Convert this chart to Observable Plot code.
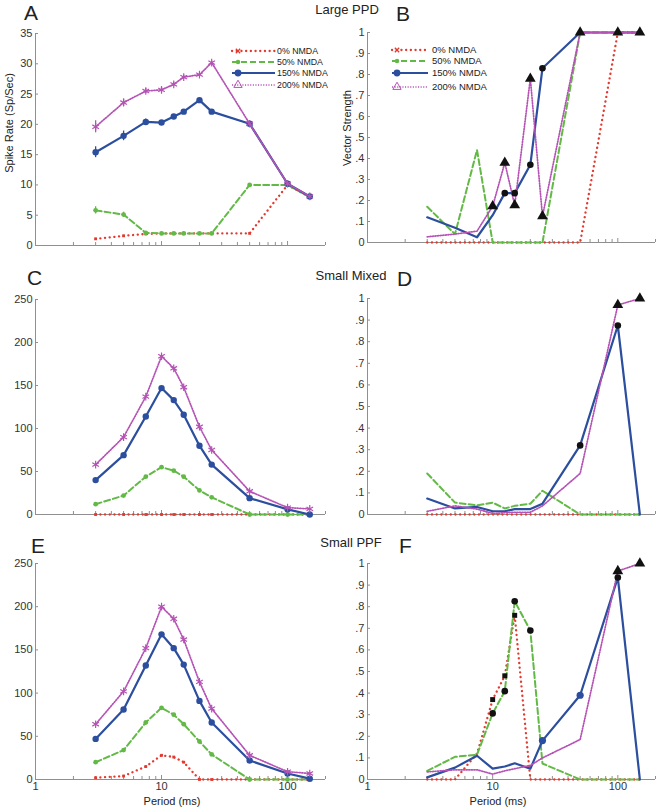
<!DOCTYPE html>
<html><head><meta charset="utf-8">
<script src="https://cdn.jsdelivr.net/npm/d3@7"></script>
<script src="https://cdn.jsdelivr.net/npm/@observablehq/plot@0.6"></script>
<style>
body{margin:0;background:#fff;font-family:"Liberation Sans",Arial,sans-serif;}
#fig{position:relative;width:660px;height:810px;overflow:hidden;background:#fff;}
.lbl{position:absolute;color:#222;white-space:nowrap;line-height:1;}
</style></head><body><div id="fig"></div>
<script>
// ---------- data ----------
const periods = [3, 5, 7.5, 10, 12.5, 15, 20, 25, 50, 100, 150];
const seriesNames = ["0% NMDA", "50% NMDA", "150% NMDA", "200% NMDA"];

// A: Large PPD spike rate
const a0   = [1.1, 1.6, 1.9, 2, 2, 2, 2, 2, 2, 10, 8];
const a50  = [5.8, 5.1, 2.1, 2, 2, 2, 2, 2, 10, 10, 8];
const a150 = [15.4, 18.1, 20.4, 20.3, 21.3, 22.1, 24, 22.1, 20.1, 10.2, 8.1];
const a200 = [19.6, 23.6, 25.5, 25.7, 26.6, 27.8, 28.2, 30.2, 20.1, 10.2, 8.1];
const errA50  = [0.6, 0.4, 0.2, 0.1, 0.1, 0.1, 0.1, 0.1, 0.1, 0.1, 0.1];
const errA150 = [0.9, 0.8, 0.5, 0.3, 0.3, 0.2, 0.2, 0.2, 0.2, 0.2, 0.2];
const errA200 = [1.0, 0.6, 0.4, 0.4, 0.3, 0.3, 0.2, 0.2, 0.2, 0.2, 0.2];

// B: Large PPD vector strength
const b0   = [0, 0, 0, 0, 0, 0, 0, 0, 0, 1, 1];
const b50  = [0.17, 0.04, 0.44, 0, 0, 0, 0, 0, 1, 1, 1];
const b150 = [0.12, 0.07, 0.025, 0.13, 0.235, 0.235, 0.37, 0.83, 1, 1, 1];
const b200 = [0.027, 0.04, 0.054, 0.173, 0.38, 0.178, 0.78, 0.125, 1, 1, 1];
const sigB150 = [12.5, 15, 20, 25];
const sigB200 = [10, 12.5, 15, 20, 25, 50, 100, 150];

// C: Small Mixed spike rate
const c0   = [0, 0, 0, 0, 0, 0, 0, 0, 0, 0, 0];
const c50  = [12, 22, 44, 55, 51, 44, 28, 20, 0, 0, 0];
const c150 = [40, 69, 114, 147, 133, 116, 80, 58, 19, 6, 0];
const c200 = [58, 90, 137, 184, 170, 148, 102, 75, 27, 8, 6.5];

// D: Small Mixed vector strength
const d0   = [0, 0, 0, 0, 0, 0, 0, 0, 0, 0, 0];
const d50  = [0.19, 0.055, 0.042, 0.055, 0.028, 0.04, 0.05, 0.11, 0, 0, 0];
const d150 = [0.074, 0.028, 0.035, 0.015, 0.015, 0.025, 0.025, 0.05, 0.32, 0.875, 0];
const d200 = [0.015, 0.04, 0.025, 0.005, 0.008, 0.01, 0.01, 0.04, 0.19, 0.97, 1.0];
const sigD150 = [50, 100];
const sigD200 = [100, 150];

// E: Small PPF spike rate
const e0   = [2, 4, 15, 28, 26, 20, 0, 0, 0, 0, 0];
const e50  = [20, 34, 66, 83, 75, 64, 44, 29, 0, 0, 0];
const e150 = [47, 81, 132, 168, 152, 133, 91, 66, 22, 7, 1];
const e200 = [64, 102, 152, 200, 186, 162, 113, 82, 28, 9, 7];

// F: Small PPF vector strength
const f0   = [0, 0, 0.12, 0.37, 0.48, 0.76, 0, 0, 0, 0, 0];
const f50  = [0.04, 0.105, 0.115, 0.306, 0.409, 0.825, 0.69, 0.074, 0, 0, 0];
const f150 = [0.01, 0.055, 0.11, 0.05, 0.06, 0.075, 0.05, 0.18, 0.39, 0.935, 0];
const f200 = [0.035, 0.045, 0.045, 0.025, 0.04, 0.05, 0.065, 0.1, 0.185, 0.965, 1.0];
const sigF0 = [10, 12.5, 15];
const sigF50 = [10, 12.5, 15, 20];
const sigF150 = [100];
const sigF150b = [25, 50];
const sigF200 = [100, 150];

const rateTicks = [0, 5, 10, 15, 20, 25, 30, 35];
const rate2Ticks = [0, 50, 100, 150, 200, 250];
const vsTicks = [0, 0.1, 0.2, 0.3, 0.4, 0.5, 0.6, 0.7, 0.8, 0.9, 1];
const xMajor = [1, 10, 100];
const xMinor = [2,3,4,5,6,7,8,9,20,30,40,50,60,70,80,90,200];

// ---------- styles ----------
const FONT = '"Liberation Sans", Arial, sans-serif';
const RED = "#e23a2f", GREEN = "#63b946", BLUE = "#2c4e9e", MAG = "#b552b5", AX = "#8f8f8f";
const lineStyle = [
  {stroke: RED, strokeWidth: 2.3, strokeDasharray: "0.1 4.6", strokeLinecap: "round"},
  {stroke: GREEN, strokeWidth: 2, strokeDasharray: "6 3"},
  {stroke: BLUE, strokeWidth: 2.2},
  {stroke: MAG, strokeWidth: 1.7, strokeDasharray: "1.1 1.5"}
];
const dotStyle = [
  {fill: RED, r: 1.6, symbol: "square"},
  {fill: GREEN, r: 2.4, symbol: "circle"},
  {fill: BLUE, r: 3.2, symbol: "circle"},
  {stroke: MAG, r: 3.6, symbol: "asterisk", strokeWidth: 1.2}
];

const rows = (arr, err) => periods.map((p, i) => ({period: p, value: arr[i], err: err ? err[i] : 0}));
const vsFmt = d => d === 0 ? "0" : d === 1 ? "1" : "." + Math.round(d * 10);

const fig = document.getElementById("fig");

function panel(cfg) {
  const W = 330;
  const innerH = cfg.h - cfg.mt - cfg.mb;
  const innerW = W - cfg.ml - cfg.mr;
  const marks = [
    Plot.ruleY([0], {stroke: AX}),
    Plot.ruleX([1], {stroke: AX}),
    Plot.tickX(xMinor, {x: d => d, stroke: AX, insetTop: innerH - 3}),
    Plot.tickX(xMajor, {x: d => d, stroke: AX, insetTop: innerH - 4}),
    Plot.tickY(cfg.yTicks, {y: d => d, stroke: AX, insetRight: innerW - 3})
  ];
  cfg.series.forEach((s, k) => {
    const r = rows(s, cfg.err ? cfg.err[k] : null);
    if (cfg.err && cfg.err[k]) {
      marks.push(Plot.ruleX(r.filter(d => d.err > 0.15), {x: "period", y1: d => d.value - d.err, y2: d => d.value + d.err, stroke: lineStyle[k].stroke, strokeWidth: 1.3}));
    }
    marks.push(Plot.line(r, {x: "period", y: "value", ...lineStyle[k]}));
    if (cfg.markers) marks.push(Plot.dot(r, {x: "period", y: "value", ...dotStyle[k]}));
  });
  (cfg.sig || []).forEach(sg => {
    const r = rows(cfg.series[sg.k]).filter(d => sg.at.includes(d.period));
    marks.push(Plot.dot(r, {x: "period", y: "value", symbol: sg.symbol, fill: sg.fill || "#111", r: sg.r || 3.3}));
  });
  const svg = Plot.plot({
    width: W, height: cfg.h,
    marginTop: cfg.mt, marginBottom: cfg.mb, marginLeft: cfg.ml, marginRight: cfg.mr,
    style: {fontFamily: FONT, fontSize: "11px", color: "#333", background: "#fff", overflow: "hidden"},
    x: cfg.xLabels
      ? {type: "log", domain: [1, 200], ticks: xMajor, tickFormat: d => String(d), tickSize: 0, tickPadding: 3, label: null}
      : {type: "log", domain: [1, 200], axis: null},
    y: {domain: [0, cfg.yMax], ticks: cfg.yTicks, tickFormat: cfg.fmt, tickSize: 0, tickPadding: 3, label: null},
    marks
  });
  svg.style.position = "absolute";
  svg.style.left = cfg.left + "px";
  svg.style.top = cfg.top + "px";
  fig.appendChild(svg);
  return svg;
}

function legend(svg, x0, x1, tx, ys, mx, fs) {
  const g = d3.select(svg).append("g").attr("font-family", FONT).attr("font-size", fs)
    .attr("fill", "#222").attr("text-anchor", "start");
  seriesNames.forEach((name, k) => {
    const st = lineStyle[k];
    g.append("line").attr("x1", x0).attr("x2", x1).attr("y1", ys[k]).attr("y2", ys[k])
      .attr("stroke", st.stroke).attr("stroke-width", st.strokeWidth)
      .attr("stroke-dasharray", st.strokeDasharray || null).attr("stroke-linecap", st.strokeLinecap || null);
    const sym = [d3.symbolTimes, d3.symbolCircle, d3.symbolCircle, d3.symbolTriangle][k];
    const size = [14, 16, 36, 30][k];
    const p = g.append("path").attr("d", d3.symbol(sym, size)()).attr("transform", `translate(${mx},${ys[k]})`);
    if (k === 0) p.attr("stroke", RED).attr("stroke-width", 1.3).attr("fill", "none");
    else if (k === 3) p.attr("stroke", MAG).attr("fill", "none").attr("stroke-width", 1);
    else p.attr("fill", st.stroke);
    g.append("text").attr("x", tx).attr("y", ys[k]).attr("dy", "0.35em").attr("text-anchor", "start").text(name);
  });
}

const A = panel({left: 0, top: 0, h: 260, mt: 33, mb: 15, ml: 35, mr: 5, yMax: 35, yTicks: rateTicks, fmt: d => String(d),
  series: [a0, a50, a150, a200], err: [null, errA50, errA150, errA200], markers: true});
const B = panel({left: 330, top: 0, h: 260, mt: 32, mb: 18, ml: 37, mr: 5, yMax: 1, yTicks: vsTicks, fmt: vsFmt,
  series: [b0, b50, b150, b200],
  sig: [{k: 2, at: sigB150, symbol: "circle"}, {k: 3, at: sigB200, symbol: "triangle", r: 4}]});
panel({left: 0, top: 260, h: 265, mt: 39, mb: 11, ml: 35, mr: 5, yMax: 250, yTicks: rate2Ticks, fmt: d => String(d),
  series: [c0, c50, c150, c200], markers: true});
panel({left: 330, top: 260, h: 265, mt: 38, mb: 11, ml: 37, mr: 5, yMax: 1, yTicks: vsTicks, fmt: vsFmt,
  series: [d0, d50, d150, d200],
  sig: [{k: 2, at: sigD150, symbol: "circle"}, {k: 3, at: sigD200, symbol: "triangle", r: 4}]});
panel({left: 0, top: 525, h: 285, mt: 38, mb: 31, ml: 35, mr: 5, yMax: 250, yTicks: rate2Ticks, fmt: d => String(d),
  series: [e0, e50, e150, e200], markers: true, xLabels: true});
panel({left: 330, top: 525, h: 285, mt: 38, mb: 31, ml: 37, mr: 5, yMax: 1, yTicks: vsTicks, fmt: vsFmt,
  series: [f0, f50, f150, f200], xLabels: true,
  sig: [{k: 0, at: sigF0, symbol: "square", r: 2.8}, {k: 1, at: sigF50, symbol: "circle"},
        {k: 2, at: sigF150b, symbol: "circle", fill: BLUE, r: 3.6}, {k: 2, at: sigF150, symbol: "circle"},
        {k: 3, at: sigF200, symbol: "triangle", r: 4}]});

legend(A, 232, 275, 277, [51, 62, 73, 85], 238, 8.8);
legend(B, 62, 98, 102, [50, 61, 73, 87], 67, 9.5);

// ---------- text labels ----------
function label(text, x, y, size, opts = {}) {
  const d = document.createElement("div");
  d.className = "lbl";
  d.textContent = text;
  d.style.left = x + "px";
  d.style.top = y + "px";
  d.style.fontSize = size + "px";
  if (opts.rotate) {
    d.style.transform = "translate(-50%,-50%) rotate(-90deg)";
  } else if (opts.center) {
    d.style.transform = "translateX(-50%)";
  }
  fig.appendChild(d);
}
label("A", 24, 2, 21);
label("B", 396, 3, 21);
label("C", 27, 267, 21);
label("D", 397, 268, 21);
label("E", 31, 535, 21);
label("F", 399, 535, 21);
label("Large PPD", 347, 3, 13, {center: true});
label("Small Mixed", 351, 269, 13, {center: true});
label("Small PPF", 351, 536, 13, {center: true});
label("Spike Rate (Sp/Sec)", 9, 123, 11, {rotate: true});
label("Vector Strength", 347, 128, 11, {rotate: true});
label("Period (ms)", 172, 796, 11, {center: true});
label("Period (ms)", 498, 796, 11, {center: true});
</script></body></html>
